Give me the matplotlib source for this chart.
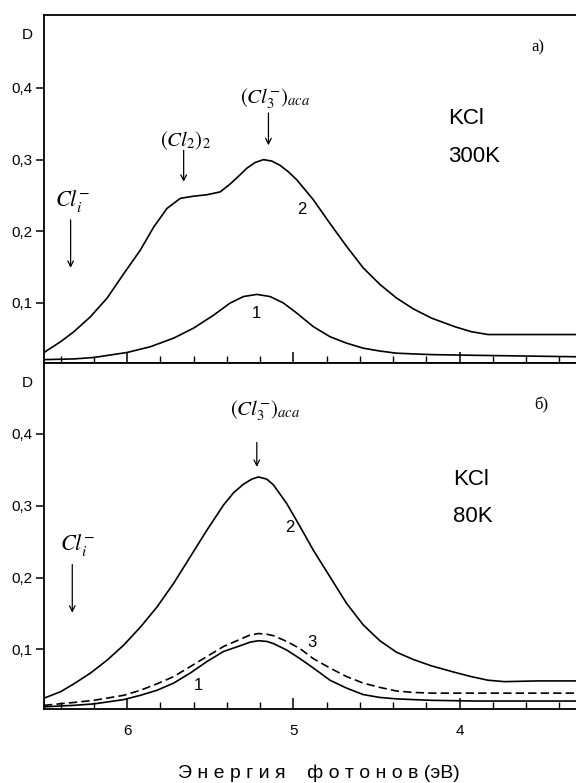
# KCl absorption spectra at 300K (a) and 80K (б)
import matplotlib
matplotlib.use("Agg")
import matplotlib.pyplot as plt
from matplotlib.ticker import MultipleLocator, FixedLocator

plt.rcParams['font.family'] = ['Liberation Sans', 'DejaVu Sans']
plt.rcParams['mathtext.fontset'] = 'stix'

# panel a) 300K
a_e2 = [6.50, 6.40, 6.32, 6.22, 6.12, 6.02, 5.92, 5.84, 5.76, 5.68, 5.60, 5.52, 5.44, 5.38,
        5.32, 5.28, 5.23, 5.18, 5.13, 5.08, 5.03, 4.98, 4.88, 4.78, 4.68, 4.58, 4.48, 4.38,
        4.28, 4.17, 4.03, 3.93, 3.83, 3.63, 3.30]
a_d2 = [0.031, 0.046, 0.060, 0.081, 0.107, 0.141, 0.174, 0.206, 0.232, 0.246, 0.249, 0.251,
        0.255, 0.266, 0.279, 0.288, 0.296, 0.300, 0.298, 0.292, 0.283, 0.272, 0.244, 0.211,
        0.179, 0.149, 0.126, 0.107, 0.092, 0.079, 0.067, 0.060, 0.056, 0.056, 0.056]
a_e1 = [6.50, 6.32, 6.20, 6.00, 5.86, 5.72, 5.60, 5.48, 5.38, 5.30, 5.22, 5.14, 5.06, 4.98,
        4.88, 4.78, 4.68, 4.58, 4.48, 4.38, 4.28, 4.17, 3.90, 3.60, 3.30]
a_d1 = [0.021, 0.022, 0.024, 0.031, 0.039, 0.051, 0.065, 0.083, 0.100, 0.109, 0.112, 0.109,
        0.100, 0.086, 0.067, 0.053, 0.044, 0.037, 0.033, 0.030, 0.029, 0.028, 0.027, 0.026,
        0.025]

# panel б) 80K
b_e2 = [6.50, 6.40, 6.32, 6.22, 6.12, 6.02, 5.92, 5.82, 5.72, 5.62, 5.52, 5.42, 5.36, 5.30,
        5.25, 5.21, 5.16, 5.12, 5.04, 4.96, 4.88, 4.78, 4.68, 4.58, 4.48, 4.38, 4.28, 4.17,
        4.03, 3.93, 3.83, 3.73, 3.53, 3.30]
b_d2 = [0.032, 0.041, 0.052, 0.067, 0.085, 0.106, 0.131, 0.159, 0.192, 0.229, 0.266, 0.301,
        0.318, 0.330, 0.337, 0.340, 0.337, 0.329, 0.303, 0.271, 0.238, 0.201, 0.164, 0.134,
        0.112, 0.096, 0.086, 0.077, 0.068, 0.062, 0.057, 0.055, 0.056, 0.056]
b_e13 = [6.50, 6.32, 6.20, 6.02, 5.92, 5.82, 5.72, 5.62, 5.52, 5.42, 5.32, 5.26, 5.21, 5.16,
         5.12, 5.04, 4.96, 4.88, 4.78, 4.68, 4.58, 4.48, 4.38, 4.28, 4.17, 3.90, 3.30]
b_d3 = [0.022, 0.026, 0.029, 0.036, 0.043, 0.052, 0.062, 0.076, 0.090, 0.104, 0.114, 0.120,
        0.122, 0.121, 0.119, 0.111, 0.101, 0.087, 0.074, 0.062, 0.053, 0.047, 0.042, 0.040,
        0.039, 0.039, 0.039]
b_d1 = [0.020, 0.022, 0.024, 0.030, 0.036, 0.043, 0.053, 0.067, 0.083, 0.097, 0.105, 0.110,
        0.112, 0.111, 0.108, 0.099, 0.087, 0.074, 0.057, 0.046, 0.037, 0.033, 0.031, 0.030,
        0.029, 0.028, 0.028]

yticks = [0.1, 0.2, 0.3, 0.4]
ylabels = ['0,1', '0,2', '0,3', '0,4']

fig = plt.figure(figsize=(5.76, 7.83), dpi=100)
ax1 = fig.add_axes([0.0764, 0.5364, 0.9236, 0.4444])
ax2 = fig.add_axes([0.0764, 0.0945, 0.9236, 0.4419])

cl3 = r'$\left(Cl_3^{-}\right)_{aca}$'
cli = r'$Cl_i^{-}$'
arr = dict(arrowstyle='->', color='black', lw=0.9, shrinkA=0, shrinkB=0)
line = dict(color='black', lw=1.2, solid_joinstyle='round')

for ax, ylim in ((ax1, (0.0163, 0.5017)), (ax2, (0.0169, 0.4987))):
    ax.set_xlim(6.5, 3.3)
    ax.set_ylim(*ylim)
    ax.spines['right'].set_visible(False)
    for s in ('left', 'top', 'bottom'):
        ax.spines[s].set_linewidth(1.3)
    ax.xaxis.set_major_locator(FixedLocator([6, 5, 4]))
    ax.xaxis.set_minor_locator(MultipleLocator(0.2))
    ax.set_xticklabels(['6', '5', '4'])
    ax.tick_params(axis='x', which='major', direction='in', length=8, width=1.1,
                   labelsize=11, pad=11)
    ax.tick_params(axis='x', which='minor', direction='in', length=5, width=1.0)
    ax.set_yticks(yticks)
    ax.set_yticklabels(ylabels)
    ax.tick_params(axis='y', direction='out', length=6, width=1.1, labelsize=11, pad=2)

ax1.text(6.60, 0.474, 'D', fontsize=11, ha='center', va='center')
ax2.text(6.60, 0.471, 'D', fontsize=11, ha='center', va='center')

# top panel
ax1.plot(a_e2, a_d2, **line)
ax1.plot(a_e1, a_d1, **line)
ax1.text(4.95, 0.230, '2', fontsize=12, ha='center', va='center')
ax1.text(5.22, 0.086, '1', fontsize=12, ha='center', va='center')
ax1.text(4.07, 0.358, 'KCl', fontsize=16, ha='left', va='center')
ax1.text(4.07, 0.304, '300K', fontsize=16, ha='left', va='center')
ax1.text(3.53, 0.457, 'a)', fontsize=12, family='Liberation Serif', ha='center', va='center')
ax1.text(6.33, 0.242, cli, fontsize=16, ha='center', va='center')
ax1.annotate('', xy=(6.34, 0.149), xytext=(6.34, 0.216), arrowprops=arr)
ax1.text(5.65, 0.327, r'$\left(Cl_2\right)_2$', fontsize=15, ha='center', va='center')
ax1.annotate('', xy=(5.66, 0.269), xytext=(5.66, 0.313), arrowprops=arr)
ax1.text(5.32, 0.385, cl3, fontsize=15, ha='left', va='center')
ax1.annotate('', xy=(5.15, 0.320), xytext=(5.15, 0.365), arrowprops=arr)

# bottom panel
ax2.plot(b_e2, b_d2, **line)
ax2.plot(b_e13, b_d1, **line)
ax2.plot(b_e13, b_d3, color='black', lw=1.2, linestyle=(0, (5, 2.5)))
ax2.text(5.02, 0.269, '2', fontsize=12, ha='center', va='center')
ax2.text(4.89, 0.109, '3', fontsize=12, ha='center', va='center')
ax2.text(5.57, 0.050, '1', fontsize=12, ha='center', va='center')
ax2.text(4.04, 0.336, 'KCl', fontsize=16, ha='left', va='center')
ax2.text(4.04, 0.285, '80K', fontsize=16, ha='left', va='center')
ax2.text(3.51, 0.440, 'б)', fontsize=12, family='Liberation Serif', ha='center', va='center')
ax2.text(6.30, 0.245, cli, fontsize=16, ha='center', va='center')
ax2.annotate('', xy=(6.33, 0.151), xytext=(6.33, 0.218), arrowprops=arr)
ax2.text(5.38, 0.432, cl3, fontsize=15, ha='left', va='center')
ax2.annotate('', xy=(5.22, 0.354), xytext=(5.22, 0.388), arrowprops=arr)

fig.text(0.309, 0.0128, 'Э н е р г и я    ф о т о н о в (эВ)', fontsize=14,
         ha='left', va='center')

fig.savefig('out.png', dpi=100)
